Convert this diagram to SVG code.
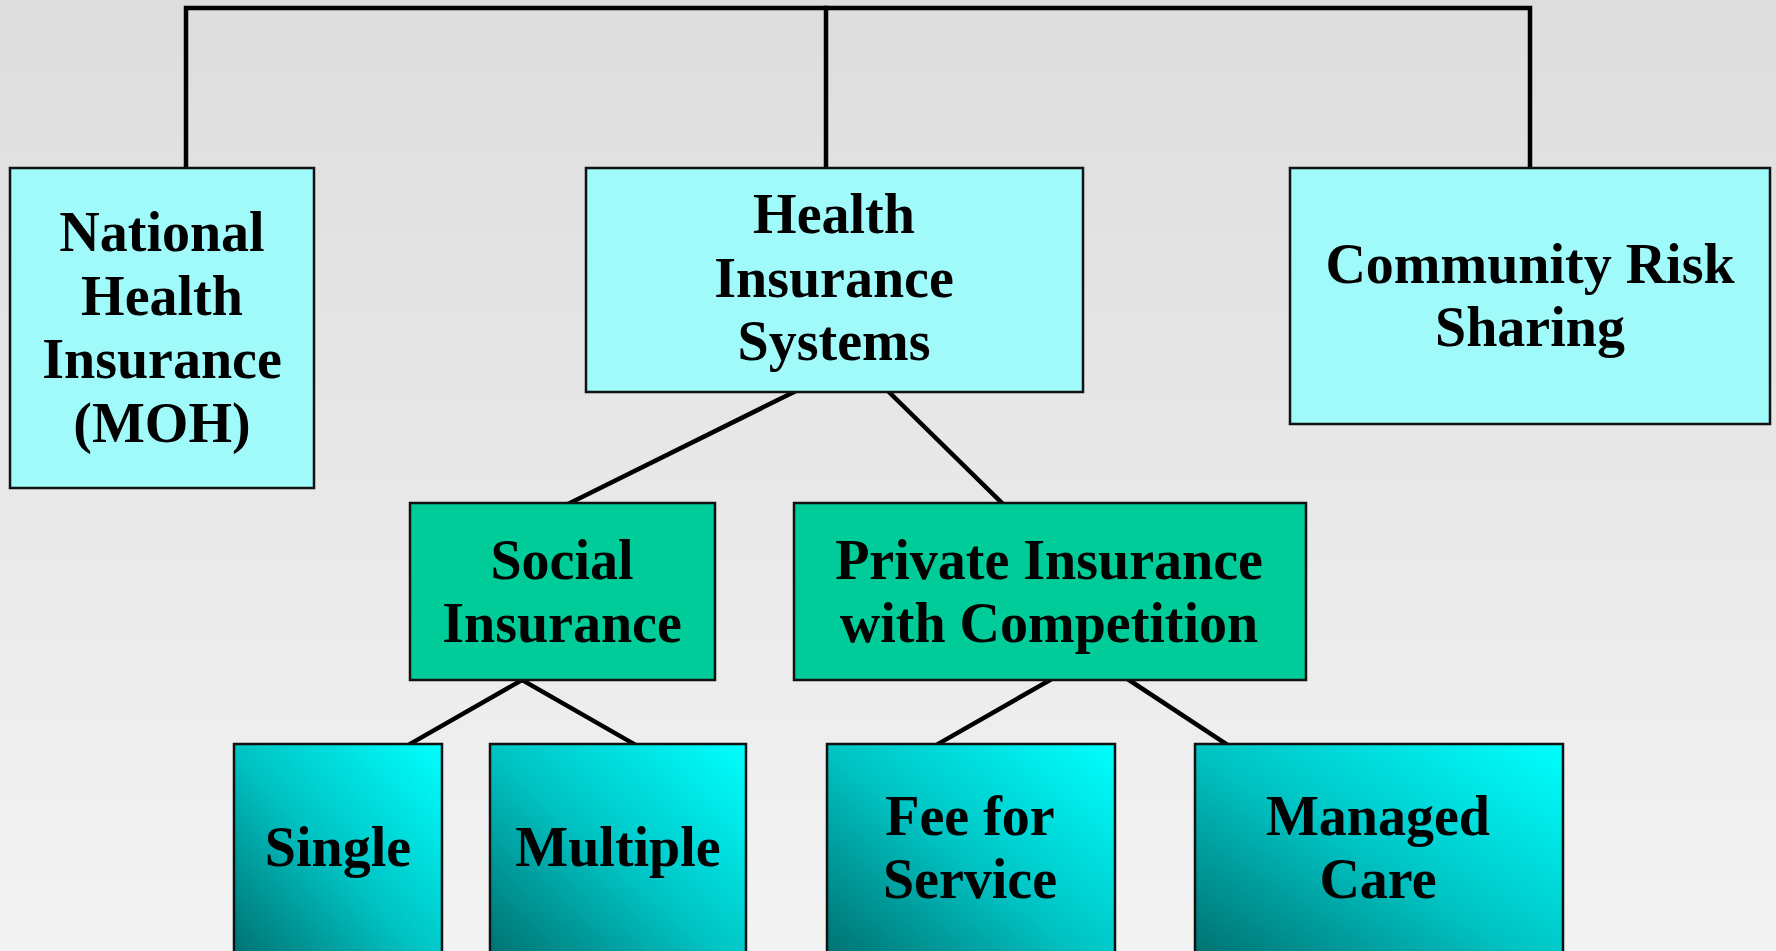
<svg xmlns="http://www.w3.org/2000/svg" width="1776" height="951" viewBox="0 0 1776 951">
<defs>
<linearGradient id="bg" x1="0" y1="0" x2="0" y2="1">
<stop offset="0" stop-color="#DDDDDD"/>
<stop offset="1" stop-color="#F3F3F3"/>
</linearGradient>
<linearGradient id="leaf" x1="0" y1="1" x2="1" y2="0">
<stop offset="0" stop-color="#006A6A"/>
<stop offset="0.5" stop-color="#00C4C4"/>
<stop offset="1" stop-color="#00FFFF"/>
</linearGradient>
<style>
.box{stroke:#111;stroke-width:2.5}
.top{fill:#A0FAFA}
.mid{fill:#00CC99}
.leaf{fill:url(#leaf)}
.t{font-family:"Liberation Serif","Times New Roman",serif;font-weight:bold;font-size:56px;fill:#000;text-anchor:middle}
.c{stroke:#000;stroke-width:4.5;fill:none;stroke-linecap:square}
</style>
</defs>
<rect x="0" y="0" width="1776" height="951" fill="url(#bg)"/>
<g id="connectors">
<polyline class="c" points="186,168 186,8 1530,8 1530,168"/>
<line class="c" x1="826" y1="8" x2="826" y2="168"/>
<line class="c" x1="794" y1="392" x2="570" y2="503"/>
<line class="c" x1="889" y1="392" x2="1002" y2="503"/>
<line class="c" x1="522" y1="680" x2="410" y2="744"/>
<line class="c" x1="522" y1="680" x2="634" y2="744"/>
<line class="c" x1="1050" y1="680" x2="938" y2="744"/>
<line class="c" x1="1129" y1="680" x2="1226" y2="744"/>
</g>
<g id="nhi">
<rect class="box top" x="10" y="168" width="304" height="320"/>
<text class="t" x="162" y="251">National</text>
<text class="t" x="162" y="315">Health</text>
<text class="t" x="162" y="378">Insurance</text>
<text class="t" x="162" y="442">(MOH)</text>
</g>
<g id="his">
<rect class="box top" x="586" y="168" width="497" height="224"/>
<text class="t" x="834" y="233">Health</text>
<text class="t" x="834" y="297">Insurance</text>
<text class="t" x="834" y="360">Systems</text>
</g>
<g id="crs">
<rect class="box top" x="1290" y="168" width="480" height="256"/>
<text class="t" x="1530" y="283">Community Risk</text>
<text class="t" x="1530" y="346">Sharing</text>
</g>
<g id="social">
<rect class="box mid" x="410" y="503" width="305" height="177"/>
<text class="t" x="562" y="579">Social</text>
<text class="t" x="562" y="642">Insurance</text>
</g>
<g id="private">
<rect class="box mid" x="794" y="503" width="512" height="177"/>
<text class="t" x="1049" y="579">Private Insurance</text>
<text class="t" x="1049" y="642">with Competition</text>
</g>
<g id="single">
<rect class="box leaf" x="234" y="744" width="208" height="230"/>
<text class="t" x="338" y="866">Single</text>
</g>
<g id="multiple">
<rect class="box leaf" x="490" y="744" width="256" height="230"/>
<text class="t" x="618" y="866">Multiple</text>
</g>
<g id="fee">
<rect class="box leaf" x="827" y="744" width="288" height="230"/>
<text class="t" x="970" y="835">Fee for</text>
<text class="t" x="970" y="898">Service</text>
</g>
<g id="managed">
<rect class="box leaf" x="1195" y="744" width="368" height="230"/>
<text class="t" x="1378" y="835">Managed</text>
<text class="t" x="1378" y="898">Care</text>
</g>
</svg>
